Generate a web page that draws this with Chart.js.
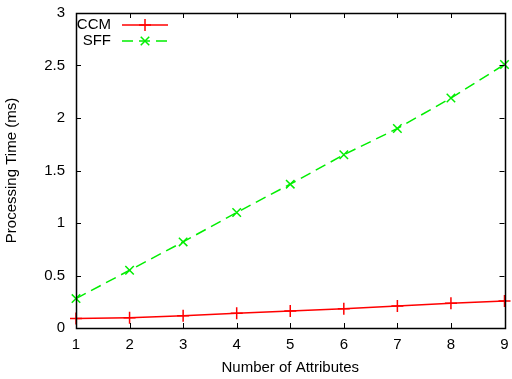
<!DOCTYPE html>
<html>
<head>
<meta charset="utf-8">
<script src="https://cdn.jsdelivr.net/npm/chart.js@4"></script>
<style>
  html, body { margin: 0; padding: 0; background: #fff; }
  #wrap { width: 512px; height: 379px; }
</style>
</head>
<body>
<div id="wrap"><canvas id="chart" width="512" height="379"></canvas></div>
<script>
// data
const attributes = [1, 2, 3, 4, 5, 6, 7, 8, 9];
const ccmTimes = [0.09, 0.098, 0.117, 0.14, 0.162, 0.184, 0.21, 0.235, 0.257];
const sffTimes = [0.28, 0.55, 0.82, 1.10, 1.37, 1.65, 1.90, 2.19, 2.51];
const xTicks = [1, 2, 3, 4, 5, 6, 7, 8, 9];
const yTicks = [0, 0.5, 1, 1.5, 2, 2.5, 3];

const FONT = 'Liberation Sans, Arial, Helvetica, sans-serif';

// gnuplot-like frame with inward ticks on all sides
const framePlugin = {
  id: 'frame',
  afterDatasetsDraw(chart) {
    const ctx = chart.ctx;
    const a = chart.chartArea;
    const xs = chart.scales.x, ys = chart.scales.y;
    const len = 5;
    ctx.save();
    ctx.strokeStyle = '#000';
    ctx.lineWidth = 1;
    ctx.beginPath();
    xTicks.forEach(function(v) {
      const px = Math.round(xs.getPixelForValue(v)) + 0.5;
      ctx.moveTo(px, a.bottom); ctx.lineTo(px, a.bottom - len);
      ctx.moveTo(px, a.top); ctx.lineTo(px, a.top + len);
    });
    yTicks.forEach(function(v) {
      const py = Math.round(ys.getPixelForValue(v)) + 0.5;
      ctx.moveTo(a.left, py); ctx.lineTo(a.left + len, py);
      ctx.moveTo(a.right, py); ctx.lineTo(a.right - len, py);
    });
    ctx.stroke();
    ctx.lineWidth = 1.5;
    ctx.strokeRect(Math.round(a.left) + 0.5, Math.round(a.top) + 0.5,
                   Math.round(a.right - a.left), Math.round(a.bottom - a.top));
    ctx.restore();
  }
};

// legend: right-aligned label, line sample with marker to the right
const keyPlugin = {
  id: 'key',
  afterDraw(chart) {
    const ctx = chart.ctx;
    ctx.save();
    ctx.font = '15px ' + FONT;
    ctx.textAlign = 'right';
    ctx.textBaseline = 'middle';
    chart.data.datasets.forEach(function(ds, i) {
      const y = 25 + i * 16;
      ctx.fillStyle = '#000';
      ctx.fillText(ds.label, 111, y);
      ctx.strokeStyle = ds.borderColor;
      ctx.lineWidth = 1.5;
      ctx.setLineDash(ds.borderDash || []);
      ctx.beginPath();
      ctx.moveTo(122, y); ctx.lineTo(168, y);
      ctx.stroke();
      ctx.setLineDash([]);
      const r = ds.pointRadius;
      ctx.beginPath();
      if (ds.pointStyle === 'cross') {
        ctx.moveTo(145 - r, y); ctx.lineTo(145 + r, y);
        ctx.moveTo(145, y - r); ctx.lineTo(145, y + r);
      } else {
        const d = r * 0.7071;
        ctx.moveTo(145 - d, y - d); ctx.lineTo(145 + d, y + d);
        ctx.moveTo(145 - d, y + d); ctx.lineTo(145 + d, y - d);
      }
      ctx.stroke();
    });
    ctx.restore();
  }
};

new Chart(document.getElementById('chart'), {
  type: 'line',
  data: {
    datasets: [{
      label: 'CCM',
      data: attributes.map((x, i) => ({ x: x, y: ccmTimes[i] })),
      borderColor: '#ff0000',
      backgroundColor: '#ff0000',
      borderWidth: 1.5,
      pointStyle: 'cross',
      pointRadius: 6,
      pointBorderWidth: 1.5,
      tension: 0
    }, {
      label: 'SFF',
      data: attributes.map((x, i) => ({ x: x, y: sffTimes[i] })),
      borderColor: '#00ee00',
      backgroundColor: '#00ee00',
      borderWidth: 1.5,
      borderDash: [11, 6],
      pointStyle: 'crossRot',
      pointRadius: 6,
      pointBorderWidth: 1.5,
      tension: 0
    }]
  },
  options: {
    responsive: false,
    animation: false,
    clip: false,
    layout: { padding: { left: 0, right: 4, top: 13, bottom: 0 } },
    plugins: {
      legend: { display: false },
      tooltip: { enabled: false }
    },
    scales: {
      x: {
        type: 'linear',
        min: 1,
        max: 9,
        afterBuildTicks: function(scale) { scale.ticks = xTicks.map(v => ({ value: v })); },
        afterFit: function(scale) {
          scale.height = 51;
          scale.paddingLeft = 0;
          scale.paddingRight = 0;
        },
        grid: { display: false, drawTicks: false },
        border: { display: false },
        ticks: {
          color: '#000', padding: 8, maxRotation: 0,
          font: { family: FONT, size: 15 },
          callback: v => String(v)
        },
        title: {
          display: true,
          text: 'Number of Attributes',
          color: '#000',
          font: { family: FONT, size: 15 },
          padding: { top: 0, bottom: 2 }
        }
      },
      y: {
        min: 0,
        max: 3,
        afterBuildTicks: function(scale) { scale.ticks = yTicks.map(v => ({ value: v })); },
        afterFit: function(scale) {
          scale.width = 76;
          scale.paddingTop = 0;
          scale.paddingBottom = 0;
        },
        grid: { display: false, drawTicks: false },
        border: { display: false },
        ticks: {
          color: '#000', padding: 11,
          font: { family: FONT, size: 15 },
          callback: v => String(v)
        },
        title: {
          display: true,
          text: 'Processing Time (ms)',
          color: '#000',
          font: { family: FONT, size: 15 },
          padding: { top: 3, bottom: 0 }
        }
      }
    }
  },
  plugins: [framePlugin, keyPlugin]
});
</script>
</body>
</html>
